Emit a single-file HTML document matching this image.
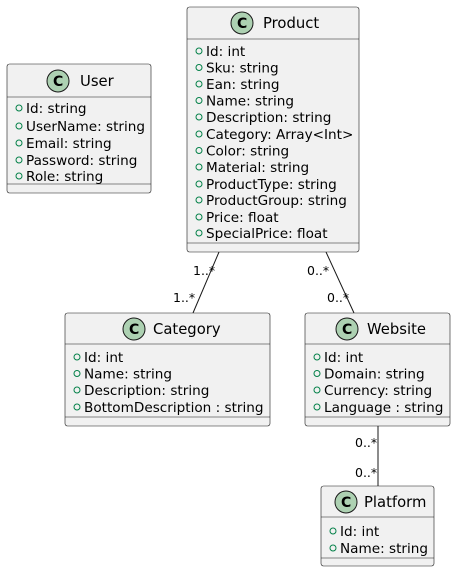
<!DOCTYPE html>
<html><head><meta charset="utf-8"><style>
html,body{margin:0;padding:0;background:#fff}
svg{display:block}
text{font-family:"DejaVu Sans","Liberation Sans",sans-serif;fill:#000}
.a{font-size:13.6px}
.h{font-size:14.8px}
.m{font-size:12.5px}
.box{fill:#f1f1f1;stroke:#181818;stroke-width:0.6}
.ln{stroke:#181818;stroke-width:0.6}
.c{fill:#add1b2;stroke:#181818;stroke-width:1}
.ct{font-size:14px;font-weight:bold}
.v{fill:none;stroke:#038048;stroke-width:1}
</style></head><body>
<svg width="456" height="573" viewBox="0 0 456 573" xmlns="http://www.w3.org/2000/svg">
<line x1="219" y1="252" x2="193" y2="313" stroke="#181818"/>
<line x1="326" y1="252" x2="354" y2="313" stroke="#181818"/>
<line x1="378" y1="426" x2="378" y2="486" stroke="#181818"/>
<text class="m" x="193" y="275">1..*</text>
<text class="m" x="173" y="302">1..*</text>
<text class="m" x="307" y="275">0..*</text>
<text class="m" x="327" y="302">0..*</text>
<text class="m" x="355" y="447">0..*</text>
<text class="m" x="355" y="477">0..*</text>

<!-- User -->
<rect class="box" x="7" y="64" width="144" height="129" rx="2.5"/>
<line class="ln" x1="7" y1="97" x2="151" y2="97"/>
<line class="ln" x1="7" y1="184" x2="151" y2="184"/>
<circle class="c" cx="58" cy="81" r="11"/><text class="ct" x="53" y="86">C</text>
<text class="h" x="80" y="86">User</text>
<g class="a">
<circle class="v" cx="19" cy="108" r="3"/><text x="26" y="113">Id: string</text>
<circle class="v" cx="19" cy="126" r="3"/><text x="26" y="131">UserName: string</text>
<circle class="v" cx="19" cy="143" r="3"/><text x="26" y="148">Email: string</text>
<circle class="v" cx="19" cy="160" r="3"/><text x="26" y="165">Password: string</text>
<circle class="v" cx="19" cy="176" r="3"/><text x="26" y="181">Role: string</text>
</g>

<!-- Product -->
<rect class="box" x="187" y="7" width="172" height="245" rx="2.5"/>
<line class="ln" x1="187" y1="39" x2="359" y2="39"/>
<line class="ln" x1="187" y1="243" x2="359" y2="243"/>
<circle class="c" cx="242" cy="23" r="11"/><text class="ct" x="237" y="28">C</text>
<text class="h" x="263" y="28">Product</text>
<g class="a">
<circle class="v" cx="199" cy="51" r="3"/><text x="206" y="56">Id: int</text>
<circle class="v" cx="199" cy="67.5" r="3"/><text x="206" y="72.5">Sku: string</text>
<circle class="v" cx="199" cy="84" r="3"/><text x="206" y="89">Ean: string</text>
<circle class="v" cx="199" cy="100.5" r="3"/><text x="206" y="105.5">Name: string</text>
<circle class="v" cx="199" cy="117" r="3"/><text x="206" y="122">Description: string</text>
<circle class="v" cx="199" cy="134" r="3"/><text x="206" y="139">Category: Array&lt;Int&gt;</text>
<circle class="v" cx="199" cy="150.5" r="3"/><text x="206" y="155.5">Color: string</text>
<circle class="v" cx="199" cy="167" r="3"/><text x="206" y="172">Material: string</text>
<circle class="v" cx="199" cy="184" r="3"/><text x="206" y="189">ProductType: string</text>
<circle class="v" cx="199" cy="200" r="3"/><text x="206" y="205">ProductGroup: string</text>
<circle class="v" cx="199" cy="217" r="3"/><text x="206" y="222">Price: float</text>
<circle class="v" cx="199" cy="233" r="3"/><text x="206" y="238">SpecialPrice: float</text>
</g>

<!-- Category -->
<rect class="box" x="65" y="313" width="205" height="113" rx="2.5"/>
<line class="ln" x1="65" y1="344" x2="270" y2="344"/>
<line class="ln" x1="65" y1="417" x2="270" y2="417"/>
<circle class="c" cx="134" cy="329" r="11"/><text class="ct" x="129" y="334">C</text>
<text class="h" x="153" y="334">Category</text>
<g class="a">
<circle class="v" cx="77" cy="357" r="3"/><text x="84" y="362">Id: int</text>
<circle class="v" cx="77" cy="373.5" r="3"/><text x="84" y="378.5">Name: string</text>
<circle class="v" cx="77" cy="390" r="3"/><text x="84" y="395">Description: string</text>
<circle class="v" cx="77" cy="407" r="3"/><text x="84" y="412">BottomDescription : string</text>
</g>

<!-- Website -->
<rect class="box" x="305" y="313" width="145" height="113" rx="2.5"/>
<line class="ln" x1="305" y1="344" x2="450" y2="344"/>
<line class="ln" x1="305" y1="417" x2="450" y2="417"/>
<circle class="c" cx="347" cy="329" r="11"/><text class="ct" x="342" y="334">C</text>
<text class="h" x="367" y="334">Website</text>
<g class="a">
<circle class="v" cx="317" cy="357" r="3"/><text x="324" y="362">Id: int</text>
<circle class="v" cx="317" cy="373.5" r="3"/><text x="324" y="378.5">Domain: string</text>
<circle class="v" cx="317" cy="390" r="3"/><text x="324" y="395">Currency: string</text>
<circle class="v" cx="317" cy="407" r="3"/><text x="324" y="412">Language : string</text>
</g>

<!-- Platform -->
<rect class="box" x="321" y="486" width="113" height="80" rx="2.5"/>
<line class="ln" x1="321" y1="517" x2="434" y2="517"/>
<line class="ln" x1="321" y1="558" x2="434" y2="558"/>
<circle class="c" cx="346" cy="502" r="11"/><text class="ct" x="341" y="507">C</text>
<text class="h" x="364" y="507">Platform</text>
<g class="a">
<circle class="v" cx="333" cy="531" r="3"/><text x="340" y="536">Id: int</text>
<circle class="v" cx="333" cy="548" r="3"/><text x="340" y="553">Name: string</text>
</g>
</svg>
</body></html>
